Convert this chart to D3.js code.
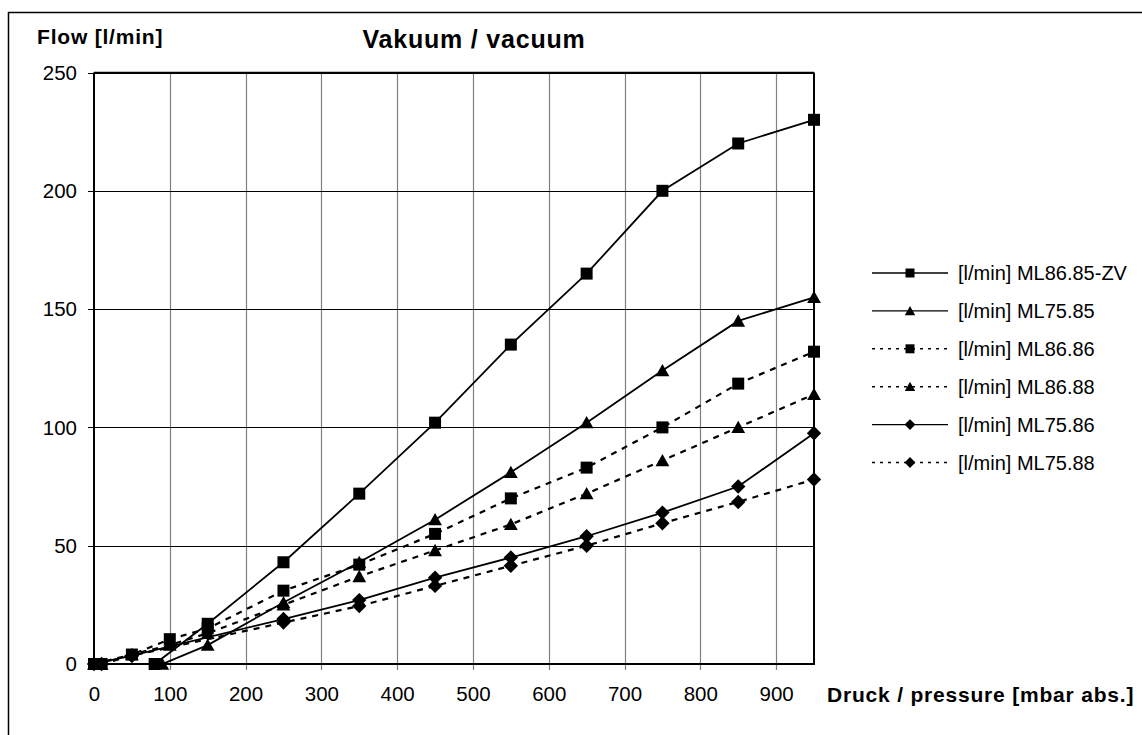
<!DOCTYPE html>
<html>
<head>
<meta charset="utf-8">
<script src="https://cdn.jsdelivr.net/npm/d3@7"></script>
<style>
  body { margin: 0; background: #fff; }
  svg { display: block; font-family: "Liberation Sans", Arial, sans-serif; }
</style>
</head>
<body>
<div id="chart"></div>
<script>
// values
const xTicks = [0, 100, 200, 300, 400, 500, 600, 700, 800, 900]
const yTicks = [0, 50, 100, 150, 200, 250]

const zvX = [0, 80, 150, 250, 350, 450, 550, 650, 750, 850, 950]
const zvY = [0, 0, 17, 43, 72, 102, 135, 165, 200, 220, 230]

const m7585X = [10, 90, 150, 250, 350, 450, 550, 650, 750, 850, 950]
const m7585Y = [0, 0, 8, 26, 43, 61, 81, 102, 124, 145, 155]

const m8686X = [10, 50, 100, 150, 250, 350, 450, 550, 650, 750, 850, 950]
const m8686Y = [0, 4, 10.5, 15, 31, 42, 55, 70, 83, 100, 118.5, 132]

const m8688X = [0, 50, 100, 150, 250, 350, 450, 550, 650, 750, 850, 950]
const m8688Y = [0, 4, 8, 13, 25, 37, 48, 59, 72, 86, 100, 114]

const m7586X = [0, 50, 250, 350, 450, 550, 650, 750, 850, 950]
const m7586Y = [0, 3.5, 19, 27, 36.5, 45, 54, 64, 75, 97.5]

const m7588X = [10, 50, 250, 350, 450, 550, 650, 750, 850, 950]
const m7588Y = [0, 3.5, 17.5, 24.5, 33, 41.5, 50, 59.5, 68.5, 78]

const seriesNames = ["[l/min] ML86.85-ZV", "[l/min] ML75.85", "[l/min] ML86.86",
                     "[l/min] ML86.88", "[l/min] ML75.86", "[l/min] ML75.88"]

const series = [
    {name: seriesNames[0], xs: zvX, ys: zvY, symbol: "square", dashed: false},
    {name: seriesNames[1], xs: m7585X, ys: m7585Y, symbol: "triangle", dashed: false},
    {name: seriesNames[2], xs: m8686X, ys: m8686Y, symbol: "square", dashed: true},
    {name: seriesNames[3], xs: m8688X, ys: m8688Y, symbol: "triangle", dashed: true},
    {name: seriesNames[4], xs: m7586X, ys: m7586Y, symbol: "diamond", dashed: false},
    {name: seriesNames[5], xs: m7588X, ys: m7588Y, symbol: "diamond", dashed: true},
]

const W = 1142, H = 735
const plot = {left: 94, right: 814, top: 72.5, bottom: 664}

const svg = d3.select("#chart").append("svg")
    .attr("width", W)
    .attr("height", H)

// outer frame, runs off the right/bottom edge
svg.append("rect")
    .attr("x", 8.5).attr("y", 12.5)
    .attr("width", W).attr("height", H)
    .attr("fill", "none").attr("stroke", "#000").attr("stroke-width", 1.5)

const x = d3.scaleLinear().domain([0, 950]).range([plot.left, plot.right])
const y = d3.scaleLinear().domain([0, 250]).range([plot.bottom, plot.top])

// vertical grid (grey)
svg.append("g")
    .selectAll("line")
    .data(xTicks.filter(d => d > 0))
    .join("line")
    .attr("x1", d => Math.round(x(d)) + 0.5).attr("x2", d => Math.round(x(d)) + 0.5)
    .attr("y1", plot.top).attr("y2", plot.bottom + 6)
    .attr("stroke", "#808080").attr("stroke-width", 1.2)

// horizontal grid (black)
svg.append("g")
    .selectAll("line")
    .data(yTicks.filter(d => d > 0))
    .join("line")
    .attr("x1", plot.left - 6).attr("x2", plot.right)
    .attr("y1", d => Math.round(y(d)) + 0.5).attr("y2", d => Math.round(y(d)) + 0.5)
    .attr("stroke", "#000").attr("stroke-width", 1)

// axes
const xAxis = d3.axisBottom(x).tickValues(xTicks).tickSize(0).tickPadding(22)
const yAxis = d3.axisLeft(y).tickValues(yTicks).tickSize(0).tickPadding(17)

const gx = svg.append("g").attr("transform", `translate(0,${plot.bottom})`).call(xAxis)
gx.select(".domain").remove()
gx.selectAll("text").attr("font-size", 20.5).attr("fill", "#000")
    .attr("font-family", "Liberation Sans, Arial, sans-serif")

const gy = svg.append("g").attr("transform", `translate(${plot.left},0)`).call(yAxis)
gy.select(".domain").remove()
gy.selectAll("text").attr("font-size", 20.5).attr("fill", "#000")
    .attr("font-family", "Liberation Sans, Arial, sans-serif")
    .attr("dy", "0.33em")

// zero ticks
svg.append("line")
    .attr("x1", plot.left).attr("x2", plot.left)
    .attr("y1", plot.bottom).attr("y2", plot.bottom + 6)
    .attr("stroke", "#808080")
svg.append("line")
    .attr("x1", plot.left - 6).attr("x2", plot.left)
    .attr("y1", plot.bottom).attr("y2", plot.bottom)
    .attr("stroke", "#000")

// plot frame
svg.append("line").attr("x1", plot.left).attr("x2", plot.right)
    .attr("y1", plot.top).attr("y2", plot.top).attr("stroke", "#000").attr("stroke-width", 1.3)
svg.append("line").attr("x1", plot.left).attr("x2", plot.right + 1)
    .attr("y1", plot.bottom).attr("y2", plot.bottom).attr("stroke", "#000").attr("stroke-width", 2)
svg.append("line").attr("x1", plot.left).attr("x2", plot.left)
    .attr("y1", plot.top).attr("y2", plot.bottom).attr("stroke", "#000").attr("stroke-width", 2)
svg.append("line").attr("x1", plot.right).attr("x2", plot.right)
    .attr("y1", plot.top).attr("y2", plot.bottom).attr("stroke", "#000").attr("stroke-width", 2)

const symbolPath = (kind, size) => {
    const s = size
    if (kind === "square") return `M${-s},${-s}h${2 * s}v${2 * s}h${-2 * s}Z`
    if (kind === "triangle") return `M0,${-s * 1.1}L${s * 1.15},${s * 0.95}L${-s * 1.15},${s * 0.95}Z`
    return `M0,${-s * 1.2}L${s * 1.2},0L0,${s * 1.2}L${-s * 1.2},0Z`
}

const line = d3.line().x(d => x(d[0])).y(d => y(d[1]))

// lines first, markers on top
const gLines = svg.append("g")
series.forEach(s => {
    const pts = s.xs.map((v, i) => [v, s.ys[i]])
    gLines.append("path")
        .attr("d", line(pts))
        .attr("fill", "none")
        .attr("stroke", "#000")
        .attr("stroke-width", s.dashed ? 2.2 : 1.8)
        .attr("stroke-dasharray", s.dashed ? "6,6" : null)
})
const gMarks = svg.append("g")
series.forEach(s => {
    gMarks.selectAll(null)
        .data(s.xs.map((v, i) => [v, s.ys[i]]))
        .join("path")
        .attr("transform", d => `translate(${x(d[0])},${y(d[1])})`)
        .attr("d", symbolPath(s.symbol, 6))
        .attr("fill", "#000")
})

// legend
const legend = svg.append("g").attr("transform", "translate(872,273)")
series.forEach((s, i) => {
    const g = legend.append("g").attr("transform", `translate(0,${i * 37.9})`)
    g.append("line")
        .attr("x1", 0).attr("x2", 76).attr("y1", 0).attr("y2", 0)
        .attr("stroke", "#000").attr("stroke-width", s.dashed ? 1.6 : 1.4)
        .attr("stroke-dasharray", s.dashed ? "3,5" : null)
    g.append("path")
        .attr("transform", "translate(38,0)")
        .attr("d", symbolPath(s.symbol, 4.5))
        .attr("fill", "#000")
    g.append("text")
        .attr("x", 86).attr("y", 7)
        .attr("font-size", 20)
        .text(s.name)
})

// titles
svg.append("text")
    .attr("x", 474).attr("y", 48)
    .attr("text-anchor", "middle")
    .attr("font-size", 25).attr("font-weight", "bold")
    .attr("letter-spacing", 0.8)
    .text("Vakuum / vacuum")

svg.append("text")
    .attr("x", 37).attr("y", 44)
    .attr("font-size", 21).attr("font-weight", "bold")
    .attr("letter-spacing", 0.8)
    .text("Flow [l/min]")

svg.append("text")
    .attr("x", 827).attr("y", 702)
    .attr("font-size", 21).attr("font-weight", "bold")
    .attr("letter-spacing", 0.8)
    .text("Druck / pressure [mbar abs.]")
</script>
</body>
</html>
